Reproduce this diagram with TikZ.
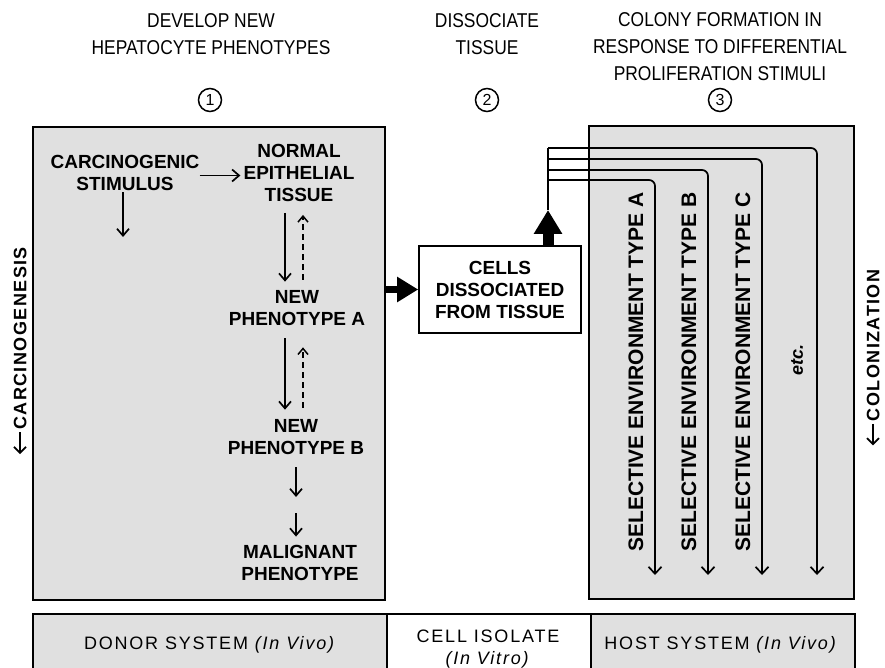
\documentclass[tikz,border=0pt]{standalone}
\usepackage{fontspec}
\usepackage{graphicx}
\setmainfont{Liberation Sans}
\usetikzlibrary{arrows.meta,calc}
\newcommand{\cnd}[1]{\scalebox{0.87}[1]{#1}}
\newcommand{\larr}{\tikz[baseline=-0.36em]\draw[line width=1.8pt,-{Straight Barb[length=6pt,width=12pt]}] (1.2em,0pt) -- (0em,0pt);\hspace{0.1em}}
\begin{document}
\begin{tikzpicture}[x=1pt,y=-1pt,
 hdr/.style={font=\fontsize{20}{27}\selectfont, align=center, inner sep=0pt},
 txt/.style={font=\bfseries\fontsize{19}{22}\selectfont, align=center, inner sep=0pt},
 vlab/.style={font=\bfseries\fontsize{21}{24}\selectfont, rotate=90, inner sep=0pt},
 side/.style={font=\bfseries\fontsize{18}{22}\selectfont\addfontfeature{LetterSpace=8}, rotate=90, inner sep=0pt},
 strip/.style={font=\fontsize{18}{22}\selectfont\addfontfeature{LetterSpace=10}, align=center, inner sep=0pt},
 num/.style={circle, draw, line width=1.5pt, minimum size=23pt, inner sep=0pt, font=\fontsize{16}{16}\selectfont},
 panel/.style={draw, line width=1.6pt, fill=black!12},
 arr/.style={line width=1.7pt, -{Straight Barb[length=7pt,width=12pt]}},
 darr/.style={line width=1.5pt, dash pattern=on 6pt off 4pt, -{Straight Barb[length=6pt,width=10pt]}},
 fatright/.style={line width=7pt, -{Triangle[length=21pt,width=24pt]}},
 fatup/.style={line width=11pt, -{Triangle[length=24pt,width=27pt]}},
 branch/.style={line width=1.7pt, rounded corners=6pt, -{Straight Barb[length=7pt,width=13pt]}},
 plain/.style={line width=1.7pt},
]
\useasboundingbox (0,0) rectangle (885,668);

% headers
\node[hdr] (h1) at (211,34) {\cnd{DEVELOP NEW}\\\cnd{HEPATOCYTE PHENOTYPES}};
\node[hdr] (h2) at (487,34) {\cnd{DISSOCIATE}\\\cnd{TISSUE}};
\node[hdr] (h3) at (720,47) {\cnd{COLONY FORMATION IN}\\\cnd{RESPONSE TO DIFFERENTIAL}\\\cnd{PROLIFERATION STIMULI}};
\node[num] (n1) at (210,100) {1};
\node[num] (n2) at (487,100) {2};
\node[num] (n3) at (720,100) {3};

% panels
\node[panel, minimum width=352pt, minimum height=473pt] (donorbox) at (209,363.5) {};
\node[panel, minimum width=265pt, minimum height=473pt] (hostbox) at (721.5,362.5) {};
\node[draw, line width=1.6pt, fill=white, minimum width=162pt, minimum height=87pt, txt] (cells) at (500,289.5) {CELLS\\DISSOCIATED\\FROM TISSUE};

% left panel text
\node[txt] (carc) at (125,172.5) {CARCINOGENIC\\STIMULUS};
\node[txt] (normal) at (299,173) {NORMAL\\EPITHELIAL\\TISSUE};
\node[txt] (phA) at (297,308.5) {NEW\\PHENOTYPE A};
\node[txt] (phB) at (296,437.5) {NEW\\PHENOTYPE B};
\node[txt] (malig) at (300,562.5) {MALIGNANT\\PHENOTYPE};

\coordinate (xa) at (285,0);
\coordinate (xd) at (303,0);
\coordinate (carcend) at (123,237);
\coordinate (gap) at (296,505);

\draw[arr] ([yshift=-3pt]carc.east) -- ([yshift=-3pt,xshift=-3pt]carc.east -| normal.west);
\draw[arr] ($(carc.south -| carcend)+(0,2)$) -- (carcend);
\draw[arr] ($(normal.south -| xa)+(0,11)$) -- ($(phA.north -| xa)+(0,-9)$);
\draw[darr] ($(phA.north -| xd)+(0,-11)$) -- ($(normal.south -| xd)+(0,13)$);
\draw[arr] ($(phA.south -| xa)+(0,12)$) -- ($(phB.north -| xa)+(0,-10)$);
\draw[darr] ($(phB.north -| xd)+(0,-12)$) -- ($(phA.south -| xd)+(0,21)$);
\draw[arr] ($(phB.south -| gap)+(0,12)$) -- ($(gap)+(0,-8)$);
\draw[arr] ($(gap)+(0,8)$) -- ($(malig.north -| gap)+(0,-8)$);

% thick arrows
\draw[fatright] (donorbox.east |- cells.west) -- (cells.west);
\coordinate (jtop) at (548,148);
\coordinate (jtip) at (548,210);
\draw[fatup] (cells.north -| jtip) -- (jtip);
\draw[plain] (jtip) -- (jtop);

% branches
\coordinate (ea) at (655,575);
\coordinate (eb) at (708,575);
\coordinate (ec) at (762,575);
\coordinate (ed) at (817,575);
\draw[branch] (jtop) -- (jtop -| ed) -- (ed);
\draw[branch] ($(jtop)+(0,11)$) -- ($(jtop -| ec)+(0,11)$) -- (ec);
\draw[branch] ($(jtop)+(0,22)$) -- ($(jtop -| eb)+(0,22)$) -- (eb);
\draw[branch] ($(jtop)+(0,32)$) -- ($(jtop -| ea)+(0,32)$) -- (ea);

% vertical labels
\node[vlab] (sa) at (636,372) {SELECTIVE ENVIRONMENT TYPE A};
\node[vlab] (sb) at (689,372) {SELECTIVE ENVIRONMENT TYPE B};
\node[vlab] (sc) at (743,372) {SELECTIVE ENVIRONMENT TYPE C};
\node[vlab, font=\bfseries\itshape\fontsize{18}{20}\selectfont] (etc) at (797,360) {etc.};

% side labels
\node[side] (carcl) at (20,351) {\larr CARCINOGENESIS};
\node[side] (colon) at (873,358) {\larr COLONIZATION};

% bottom strip
\fill[black!12] (33,614) rectangle (387,668);
\fill[black!12] (591,614) rectangle (855,668);
\draw[line width=1.6pt] (33,672) -- (33,614) -- (855,614) -- (855,672);
\draw[line width=1.3pt] (387,614) -- (387,672);
\draw[line width=1.3pt] (591,614) -- (591,672);
\node[strip] (donor) at (210,645) {DONOR SYSTEM \textit{(In Vivo)}};
\node[strip] (isol) at (488,649) {CELL ISOLATE\\\textit{(In Vitro)}};
\node[strip] (host) at (721,645) {HOST SYSTEM \textit{(In Vivo)}};
\end{tikzpicture}
\end{document}
